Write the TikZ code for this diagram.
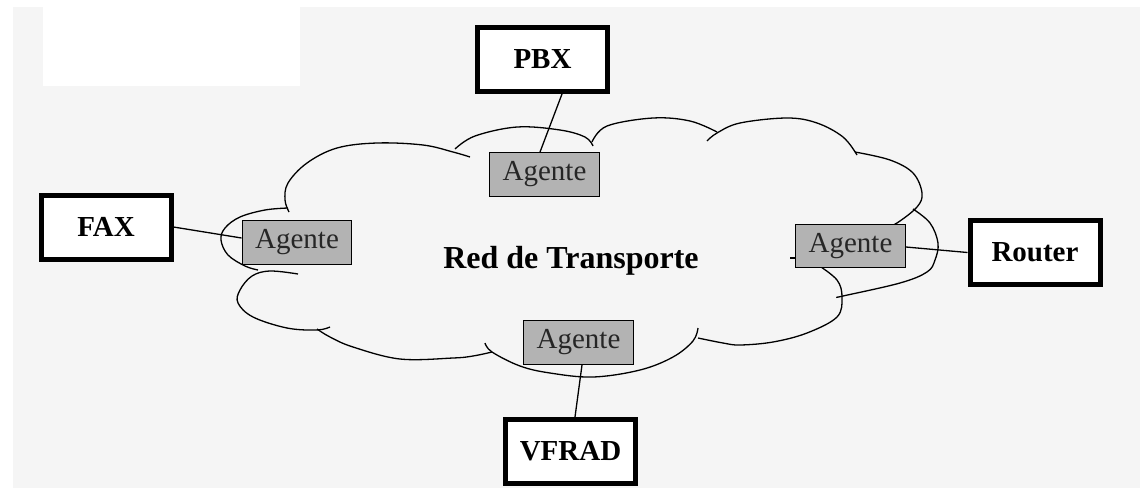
\documentclass[tikz,border=0pt]{standalone}
\usepackage{fontspec}
\setmainfont{Liberation Serif}
\definecolor{paper}{HTML}{F5F5F5}
\definecolor{agentfill}{HTML}{B3B3B3}
\begin{document}
\begin{tikzpicture}[x=1pt,y=-1pt,
  device/.style={draw=black,line width=5pt,fill=white,inner sep=0pt,
    minimum width=130pt,minimum height=64pt,
    font=\fontsize{29}{34}\selectfont\bfseries},
  agent/.style={draw=black,line width=1.4pt,fill=agentfill,inner sep=0pt,
    minimum width=109.5pt,minimum height=43.5pt,
    text=black!85,font=\fontsize{29}{34}\selectfont},
  link/.style={draw=black,line width=1.3pt},
  lobe/.style={draw=black,line width=1.3pt,line join=round}]
% page and backdrop
\useasboundingbox (0,0) rectangle (1140,488);
\fill[white] (0,0) rectangle (1140,488);
\fill[paper] (13,7) rectangle (1140,488);
\fill[white] (43,7) rectangle (300,86);

% cloud outline, one arc per lobe
\draw[lobe] plot[smooth,tension=0.6] coordinates {(289,212) (285,200) (288,183) (307,163) (337,148) (377,143) (423,145) (453,152) (470,157)};
\draw[lobe] plot[smooth,tension=0.6] coordinates {(455,149) (475,136) (517,127) (560,130) (585,137) (593,146)};
\draw[lobe] plot[smooth,tension=0.6] coordinates {(592,142) (607,126) (653,118) (690,121) (717,132)};
\draw[lobe] plot[smooth,tension=0.6] coordinates {(707,141) (717,133) (740,123) (787,118) (817,123) (843,137) (857,155)};
\draw[lobe] plot[smooth,tension=0.6] coordinates {(855,152) (890,160) (913,173) (922,193) (917,207) (897,223) (885,228)};
\draw[lobe] plot[smooth,tension=0.6] coordinates {(913,209) (930,223) (938,243) (935,260) (927,272) (900,283) (843,296) (838,297)};
\draw[lobe] plot[smooth,tension=0.6] coordinates {(818,265) (837,280) (842,297) (837,317) (807,333) (773,342) (740,345) (723,343) (698,338)};
\draw[lobe] plot[smooth,tension=0.6] coordinates {(485,343) (492,352) (520,366) (550,373) (593,377) (640,370) (673,357) (693,341) (698,328)};
\draw[lobe] plot[smooth,tension=0.6] coordinates {(492,352) (473,356) (453,358) (400,359) (353,347) (330,337) (317,329)};
\draw[lobe] plot[smooth,tension=0.6] coordinates {(298,274) (270,271) (252,276) (240,290) (238,303) (253,317) (287,328) (317,330) (330,327)};
\draw[lobe] plot[smooth,tension=0.6] coordinates {(288,208) (265,210) (240,217) (225,228) (221,240) (228,255) (245,266) (258,270)};
\draw[lobe] (790,258) -- (796,258);

% network label
\node[font=\fontsize{32}{38}\selectfont\bfseries,anchor=base] (net) at (571,268) {Red de Transporte};

% agents on the network edge
\node[agent] (agpbx) at (544.5,174.5) {Agente};
\node[agent] (agfax) at (297,242.5) {Agente};
\node[agent] (agrtr) at (850.5,246) {Agente};
\node[agent] (agvfr) at (578.5,342.5) {Agente};

% attached devices
\node[device] (pbx) at (542.5,59.5) {PBX};
\node[device] (fax) at (106,227) {FAX};
\node[device] (rtr) at (1035,252.5) {Router};
\node[device] (vfr) at (570.5,451.5) {VFRAD};

% device-to-agent links
\draw[link] ([xshift=19.5pt]pbx.south) -- ([xshift=-4.5pt]agpbx.north);
\draw[link] (fax.east) -- ([yshift=4.5pt]agfax.west);
\draw[link] ([yshift=-1pt]agrtr.east) -- (rtr.west);
\draw[link] ([xshift=3.5pt]agvfr.south) -- ([xshift=4.5pt]vfr.north);
\end{tikzpicture}
\end{document}
